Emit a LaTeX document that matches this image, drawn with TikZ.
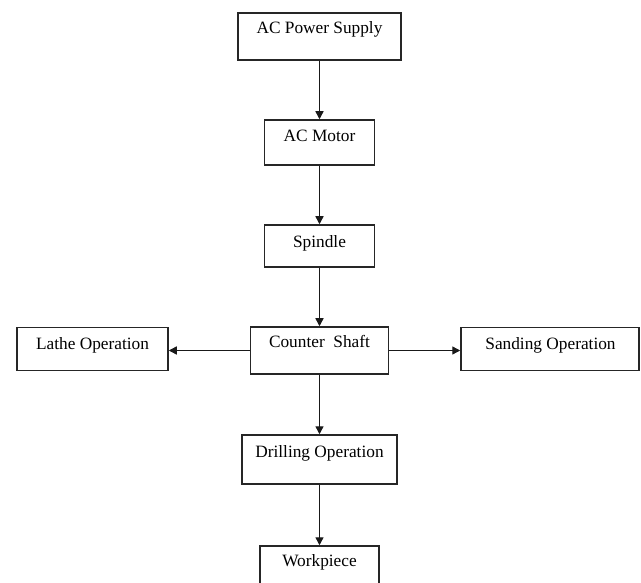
\documentclass[tikz,border=0pt]{standalone}
\usepackage{fontspec}
\setmainfont{Liberation Serif}
\usetikzlibrary{arrows.meta}
\begin{document}
\begin{tikzpicture}[x=1pt,y=-1pt,
  box/.style={draw=black!85, line width=1.5pt, fill=white, inner sep=0pt},
  lbl/.style={anchor=base, inner sep=0pt, font=\fontsize{17.3}{20}\selectfont},
  conn/.style={draw=black!90, line width=1.4pt, -{Triangle[length=8pt,width=8pt]}}]
\useasboundingbox (0,0) rectangle (641,583);
\clip (0,0) rectangle (641,583);
% boxes
\node[box, minimum width=163, minimum height=47] (ps) at (319.5,36.5) {};
\node[box, minimum width=110, minimum height=45] (motor) at (319.5,142.5) {};
\node[box, minimum width=110, minimum height=42] (spindle) at (319.5,246) {};
\node[box, minimum width=138, minimum height=47] (cs) at (319.5,350.5) {};
\node[box, minimum width=151, minimum height=43] (lathe) at (92.5,349) {};
\node[box, minimum width=178, minimum height=43] (sand) at (550,349) {};
\node[box, minimum width=155, minimum height=49] (drill) at (319.5,459.5) {};
\node[box, minimum width=119, minimum height=50] (work) at (319.5,571) {};
% labels
\node[lbl] (psT) at (319.5,33.3) {AC Power Supply};
\node[lbl] (motorT) at (319.5,141.7) {AC Motor};
\node[lbl] (spindleT) at (319.5,247.7) {Spindle};
\node[lbl] (csT) at (319.5,348) {Counter\ \ Shaft};
\node[lbl] (latheT) at (92.5,349) {Lathe Operation};
\node[lbl] (sandT) at (550.5,349) {Sanding Operation};
\node[lbl] (drillT) at (319.5,457) {Drilling Operation};
\node[lbl] (workT) at (319.5,566.7) {Workpiece};
% connectors
\draw[conn] (ps.south) -- (motor.north);
\draw[conn] (motor.south) -- (spindle.north);
\draw[conn] (spindle.south) -- (cs.north);
\draw[conn] (cs.south) -- (drill.north);
\draw[conn] (drill.south) -- (work.north);
\draw[conn] (cs.west) -- (cs.west -| lathe.east);
\draw[conn] (cs.east) -- (cs.east -| sand.west);
\end{tikzpicture}
\end{document}
